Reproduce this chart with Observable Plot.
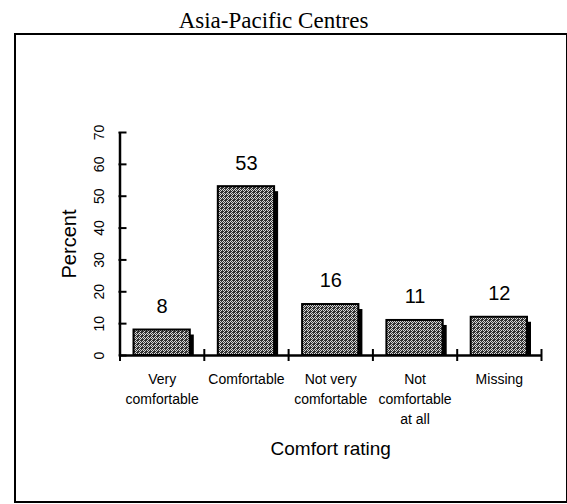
<!DOCTYPE html>
<html><head><meta charset="utf-8">
<script src="https://cdn.jsdelivr.net/npm/d3@7"></script>
<script src="https://cdn.jsdelivr.net/npm/@observablehq/plot@0.6"></script>
<style>
html,body{margin:0;padding:0;background:#fff;}
#wrap{position:relative;width:567px;height:504px;overflow:hidden;}
#chart{position:absolute;left:0;top:0;}
#title{position:absolute;left:0;top:9px;width:547px;text-align:center;font:23px/23px "Liberation Serif","Times New Roman",serif;color:#000;}
#box{position:absolute;left:14px;top:33px;width:553px;height:470px;box-sizing:border-box;border:2px solid #000;border-right-width:1px;}
</style></head><body>
<div id="wrap"><div id="chart"></div><div id="title"></div><div id="box"></div></div>
<script>
const title = "Asia-Pacific Centres";
const categories = ["Very\ncomfortable", "Comfortable", "Not very\ncomfortable", "Not\ncomfortable\nat all", "Missing"];
const percents = [8, 53, 16, 11, 12];
const yTicks = [0, 10, 20, 30, 40, 50, 60, 70];
const xLabel = "Comfort rating";
const yLabel = "Percent";

document.getElementById("title").textContent = title;

const data = categories.map((c, i) => ({cat: c, i, value: percents[i]}));
const bounds = d3.range(categories.length + 1);
const font = "'Liberation Sans', Arial, sans-serif";

const chart = Plot.plot({
  width: 567,
  height: 504,
  marginLeft: 119.5,
  marginRight: 26,
  marginTop: 132,
  marginBottom: 149,
  style: {background: "transparent", fontFamily: font, color: "#000", overflow: "visible"},
  x: {domain: [0, categories.length], axis: null},
  y: {domain: [0, 70], axis: null},
  marks: [
    // shadows
    Plot.rectY(data, {x1: d => d.i, x2: d => d.i + 1, y1: 0, y2: d => d.value, insetLeft: 14, insetRight: 14, insetTop: 5, dx: 4, fill: "#000"}),
    // bars
    Plot.rectY(data, {x1: d => d.i, x2: d => d.i + 1, y1: 0, y2: d => d.value, insetLeft: 14, insetRight: 14, fill: "url(#stipple)", stroke: "#000", strokeWidth: 2}),
    // axes
    Plot.ruleY([0], {stroke: "#000", strokeWidth: 2.5}),
    Plot.ruleX([0], {y1: 0, y2: 70, stroke: "#000", strokeWidth: 2.5}),
    Plot.ruleX(bounds, {x: d => d, y1: 0, y2: 0, insetTop: -6, insetBottom: -6, stroke: "#000", strokeWidth: 2}),
    Plot.ruleY(yTicks, {y: d => d, x1: 0, x2: 0, insetLeft: -1, insetRight: -7, stroke: "#000", strokeWidth: 2}),
    Plot.text(yTicks, {x: 0, y: d => d, text: d => String(d), rotate: -90, dx: -20, fontSize: 14, lineAnchor: "middle", fill: "#000"}),
    Plot.text([yLabel], {x: 0, y: 35, text: d => d, rotate: -90, dx: -50, fontSize: 20, lineAnchor: "middle", fill: "#000"}),
    // value labels
    Plot.text(data, {x: d => d.i + 0.5, y: d => d.value, text: d => String(d.value), dy: -23.5, fontSize: 20, lineAnchor: "middle", fill: "#000"}),
    // category labels
    Plot.text(data, {x: d => d.i + 0.5, frameAnchor: "bottom", text: d => d.cat, lineAnchor: "top", dy: 14, fontSize: 14, lineHeight: 1.43, fill: "#000"}),
    Plot.text([xLabel], {x: categories.length / 2, frameAnchor: "bottom", text: d => d, lineAnchor: "middle", dy: 93, fontSize: 19, fill: "#000"})
  ]
});

const svg = d3.select(chart);
const pat = svg.insert("defs", ":first-child").append("pattern")
  .attr("id", "stipple").attr("patternUnits", "userSpaceOnUse")
  .attr("width", 4).attr("height", 4);
pat.append("rect").attr("width", 4).attr("height", 4).attr("fill", "#d8d8d8");
[[0,0],[2,0],[1,1],[3,1],[0,2],[2,2],[1,3],[3,3],[1,0],[2,3]].forEach(([x, y]) => {
  pat.append("rect").attr("x", x).attr("y", y).attr("width", 1).attr("height", 1).attr("fill", "#333");
});

document.getElementById("chart").appendChild(chart);
</script>
</body></html>
